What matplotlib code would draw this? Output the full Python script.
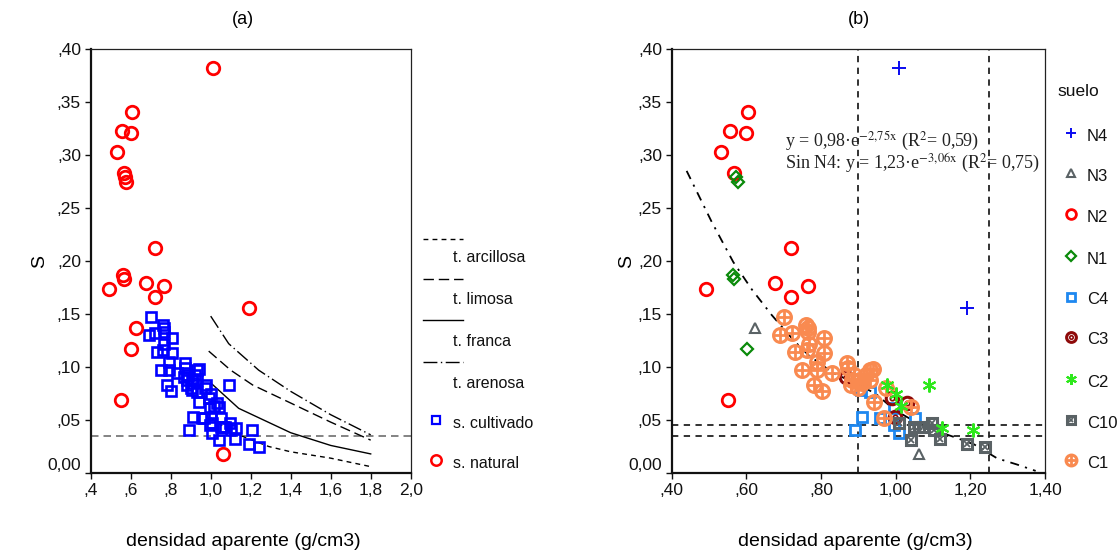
import matplotlib
matplotlib.use('Agg')
import matplotlib.pyplot as plt
import numpy as np

plt.rcParams['font.family'] = ['Liberation Sans', 'DejaVu Sans']
plt.rcParams['mathtext.fontset'] = 'stix'

# ---------------- data ----------------
soils = ['N4', 'N3', 'N2', 'N1', 'C4', 'C3', 'C2', 'C10', 'C1']

n4_x = [1.01, 1.19]
n4_y = [0.382, 0.156]
n3_x = [0.624, 1.062]
n3_y = [0.137, 0.018]
n2_x = [0.605, 0.555, 0.600, 0.533, 0.567, 0.719, 0.676, 0.493, 0.764, 0.719, 0.552]
n2_y = [0.341, 0.323, 0.321, 0.3025, 0.283, 0.2125, 0.179, 0.174, 0.176, 0.166, 0.069]
n1_x = [0.572, 0.578, 0.563, 0.568, 0.601]
n1_y = [0.279, 0.275, 0.187, 0.183, 0.117]
c4_x = [0.892, 0.910, 0.906, 0.932, 0.958, 0.995, 0.995, 1.008, 1.053]
c4_y = [0.0405, 0.053, 0.078, 0.0767, 0.0516, 0.061, 0.045, 0.038, 0.0516]
c3_x = [0.866, 0.990, 0.999, 1.030]
c3_y = [0.091, 0.0705, 0.053, 0.0657]
c2_x = [0.978, 1.000, 1.015, 1.089, 1.125, 1.207]
c2_y = [0.083, 0.0745, 0.063, 0.083, 0.042, 0.0405]
c10_x = [1.008, 1.040, 1.049, 1.062, 1.072, 1.098, 1.102, 1.120, 1.192, 1.240]
c10_y = [0.047, 0.031, 0.0437, 0.043, 0.043, 0.047, 0.041, 0.0325, 0.027, 0.0245]
c1_x = [0.700, 0.691, 0.722, 0.760, 0.765, 0.765, 0.767, 0.807, 0.731, 0.762, 0.807,
        0.749, 0.789, 0.789, 0.830, 0.780, 0.803, 0.870, 0.873, 0.883, 0.880, 0.888,
        0.905, 0.910, 0.932, 0.940, 0.932, 0.941, 0.973, 0.968, 1.040, 0.920, 0.900]
c1_y = [0.1475, 0.130, 0.132, 0.140, 0.137, 0.133, 0.122, 0.127, 0.1145, 0.116, 0.113,
        0.097, 0.105, 0.097, 0.094, 0.083, 0.077, 0.1035, 0.099, 0.088, 0.083, 0.092,
        0.088, 0.0846, 0.097, 0.0985, 0.088, 0.067, 0.080, 0.0516, 0.0626, 0.092, 0.080]

soil_data = {
    'N4': (n4_x, n4_y), 'N3': (n3_x, n3_y), 'N2': (n2_x, n2_y), 'N1': (n1_x, n1_y),
    'C4': (c4_x, c4_y), 'C3': (c3_x, c3_y), 'C2': (c2_x, c2_y),
    'C10': (c10_x, c10_y), 'C1': (c1_x, c1_y),
}
natural = ['N4', 'N3', 'N2', 'N1']
cultivated = ['C4', 'C3', 'C2', 'C10', 'C1']

# texture reference curves (panel a)
tex_labels = ['t. arcillosa', 't. limosa', 't. franca', 't. arenosa']
arcillosa_x = [1.00, 1.10, 1.18, 1.29, 1.40, 1.60, 1.80]
arcillosa_y = [0.052, 0.039, 0.033, 0.025, 0.020, 0.014, 0.006]
limosa_x = [0.99, 1.10, 1.21, 1.40, 1.60, 1.80]
limosa_y = [0.115, 0.097, 0.083, 0.066, 0.048, 0.031]
franca_x = [1.00, 1.14, 1.40, 1.60, 1.80]
franca_y = [0.085, 0.061, 0.038, 0.026, 0.018]
arenosa_x = [1.00, 1.09, 1.24, 1.40, 1.60, 1.80]
arenosa_y = [0.148, 0.122, 0.097, 0.077, 0.055, 0.036]

# fitted curve (panel b)
fit_x = [0.44, 0.507, 0.565, 0.615, 0.668, 0.727, 0.767, 0.834, 0.874, 0.946, 0.995,
         1.075, 1.156, 1.210, 1.272, 1.325, 1.375]
fit_y = [0.285, 0.237, 0.199, 0.173, 0.149, 0.125, 0.111, 0.094, 0.0877, 0.075, 0.060,
         0.0437, 0.034, 0.027, 0.0138, 0.008, 0.002]

s_limit = 0.035
s_limit2 = 0.045
dens_limits = [0.90, 1.25]

# ---------------- figure ----------------
W, H = 1120, 556
fig = plt.figure(figsize=(W / 100, H / 100), dpi=100)


def px_axes(l, t, r, b):
    return fig.add_axes([l / W, 1 - b / H, (r - l) / W, (b - t) / H])


axL = px_axes(90.7, 49, 410.7, 473)
axR = px_axes(671.7, 49, 1045, 473)
ov = fig.add_axes([0, 0, 1, 1], zorder=10)
ov.set_xlim(0, W)
ov.set_ylim(H, 0)
ov.axis('off')


def es(v, dec):
    s = f"{v:.{dec}f}".replace('.', ',')
    if abs(v) > 1e-9 and s.startswith('0,'):
        s = s[1:]
    return s


yt = np.round(np.arange(0, 0.401, 0.05), 2)
for ax, xt, xdec in [(axL, np.round(np.arange(0.4, 2.01, 0.2), 1), 1),
                     (axR, np.round(np.arange(0.4, 1.401, 0.2), 1), 2)]:
    ax.set_xlim(xt[0], xt[-1])
    ax.set_ylim(0, 0.40)
    ax.set_xticks(xt)
    ax.set_xticklabels([es(v, xdec) for v in xt])
    ax.set_yticks(yt)
    ax.set_yticklabels([es(v, 2) for v in yt])
    ax.tick_params(direction='out', length=4, width=1, labelsize=12.5, pad=3,
                   colors='#111111')
    for sp in ['left', 'bottom']:
        ax.spines[sp].set_linewidth(1.6)
        ax.spines[sp].set_color('#111111')
    for sp in ['top', 'right']:
        ax.spines[sp].set_linewidth(0.9)
        ax.spines[sp].set_color('#222222')
    ax.yaxis.get_major_ticks()[0].label1.set_verticalalignment('bottom')


# ----- marker styles -----
def draw(ax, x, y, kind, scale=1.0, z=3):
    k = scale
    if kind == 'N4':
        ax.plot(x, y, ls='none', marker='+', ms=10 * k, mew=1.4, color='#0a0af0', zorder=z)
    elif kind == 'N3':
        ax.plot(x, y, ls='none', marker='^', ms=7 * k, mew=1.5, mfc='none', color='#5a6265', zorder=z)
    elif kind == 'N2':
        ax.plot(x, y, ls='none', marker='o', ms=9 * k, mew=2.0, mfc='none', color='#ff0000', zorder=z)
    elif kind == 'N1':
        ax.plot(x, y, ls='none', marker='D', ms=6.3 * k, mew=1.6, mfc='none', color='#0a8a0a', zorder=z)
    elif kind == 'C4':
        ax.plot(x, y, ls='none', marker='s', ms=6.8 * k, mew=2.0, mfc='none', color='#1e88f0', zorder=z)
    elif kind == 'C3':
        ax.plot(x, y, ls='none', marker='o', ms=9 * k, mew=2.2, mfc='none', color='#8e0a0a', zorder=z)
        ax.plot(x, y, ls='none', marker='o', ms=3.2 * k, mew=1.2, mfc='none', color='#8e0a0a', zorder=z)
    elif kind == 'C2':
        ax.plot(x, y, ls='none', marker=(6, 2, 0), ms=10 * k, mew=1.5, color='#2ee81c', zorder=z)
    elif kind == 'C10':
        ax.plot(x, y, ls='none', marker='s', ms=7.2 * k, mew=2.2, mfc='none', color='#5a6265', zorder=z)
        ax.plot(x, y, ls='none', marker='x', ms=4.5 * k, mew=1.3, color='#5a6265', zorder=z)
    elif kind == 'C1':
        ax.plot(x, y, ls='none', marker='o', ms=10 * k, mew=2.2, mfc='none', color='#f98a50', zorder=z)
        ax.plot(x, y, ls='none', marker='+', ms=9.5 * k, mew=2.0, color='#f98a50', zorder=z)


# ---------------- panel (a) ----------------
tex_styles = [(0, (3.5, 3.0)), (0, (7.5, 3.5)), '-', (0, (10, 2.5, 1.0, 2.5))]
for (xs, ys), st in zip([(arcillosa_x, arcillosa_y), (limosa_x, limosa_y),
                         (franca_x, franca_y), (arenosa_x, arenosa_y)], tex_styles):
    axL.plot(xs, ys, color='black', lw=1.0, ls=st, zorder=2)

axL.axhline(s_limit, color='#6e6e6e', lw=1.2, ls=(0, (4.5, 3)), zorder=1)

cx = sum([soil_data[s][0] for s in cultivated], [])
cy = sum([soil_data[s][1] for s in cultivated], [])
nx = sum([soil_data[s][0] for s in natural], [])
ny = sum([soil_data[s][1] for s in natural], [])
axL.plot(cx, cy, ls='none', marker='s', ms=7, mew=1.9, mfc='none', color='#0000ff', zorder=3)
axL.plot(nx, ny, ls='none', marker='o', ms=9, mew=2.0, mfc='none', color='#ff0000', zorder=3)

# legend (a)
leg_line_y = [239, 279, 320, 362]
leg_text_y = [258, 300, 341, 383]
for st, yl, yt_, lab in zip(tex_styles, leg_line_y, leg_text_y, tex_labels):
    ov.plot([423, 463], [yl, yl], color='black', lw=1.0, ls=st)
    ov.text(453, yt_, lab, fontsize=11.5, va='center', ha='left', color='#111111')
ov.plot([436], [420], ls='none', marker='s', ms=5.5, mew=1.6, mfc='none', color='#0000ff')
ov.text(453, 423, 's. cultivado', fontsize=11.5, va='center', ha='left', color='#111111')
ov.plot([436], [460], ls='none', marker='o', ms=7.5, mew=1.8, mfc='none', color='#ff0000')
ov.text(453, 463, 's. natural', fontsize=11.5, va='center', ha='left', color='#111111')

# ---------------- panel (b) ----------------
for xv in dens_limits:
    axR.axvline(xv, color='#222222', lw=1.3, ls=(0, (3.5, 3)), zorder=1)
for yv in [s_limit2, s_limit]:
    axR.axhline(yv, color='#222222', lw=1.3, ls=(0, (3.5, 3)), zorder=1)
axR.plot(fit_x, fit_y, color='black', lw=1.3, ls=(0, (5, 3.5, 1.2, 3.5)), zorder=2)

draw_order = ['C4', 'C3', 'C1', 'C10', 'C2', 'N2', 'N1', 'N3', 'N4']
for s in draw_order:
    draw(axR, soil_data[s][0], soil_data[s][1], s)

ov.text(785, 141, r'y = 0,98·e$^{\mathrm{-2{,}75x}}$ (R$^{\mathrm{2}}$= 0,59)', fontsize=13,
        family='Liberation Serif', va='center', ha='left', zorder=5, color='#222222')
ov.text(785, 163, r'Sin N4: y = 1,23·e$^{\mathrm{-3{,}06x}}$ (R$^{\mathrm{2}}$= 0,75)', fontsize=13,
        family='Liberation Serif', va='center', ha='left', zorder=5, color='#222222')

# legend (b)
ov.text(1057, 91, 'suelo', fontsize=12.5, va='center', ha='left', color='#111111')
leg_y = [136.7, 176.7, 217, 259, 300, 340, 382.7, 423, 463]
for s, yy in zip(soils, leg_y):
    draw(ov, [1071], [yy - 3.5], s, scale=0.78)
    ov.text(1087, yy, s, fontsize=12, va='center', ha='left', color='#111111')

# ---------------- labels ----------------
fig.text(243 / W, 1 - 19 / H, '(a)', fontsize=13, ha='center', va='center')
fig.text(859 / W, 1 - 19 / H, '(b)', fontsize=13, ha='center', va='center')
fig.text(243 / W, 1 - 542 / H, 'densidad aparente (g/cm3)', fontsize=14, ha='center', va='center')
fig.text(855 / W, 1 - 542 / H, 'densidad aparente (g/cm3)', fontsize=14, ha='center', va='center')
fig.text(40 / W, 1 - 262 / H, 'S', fontsize=14, ha='center', va='center', rotation=90)
fig.text(627 / W, 1 - 262 / H, 'S', fontsize=14, ha='center', va='center', rotation=90)

fig.savefig('out.png', dpi=100)
